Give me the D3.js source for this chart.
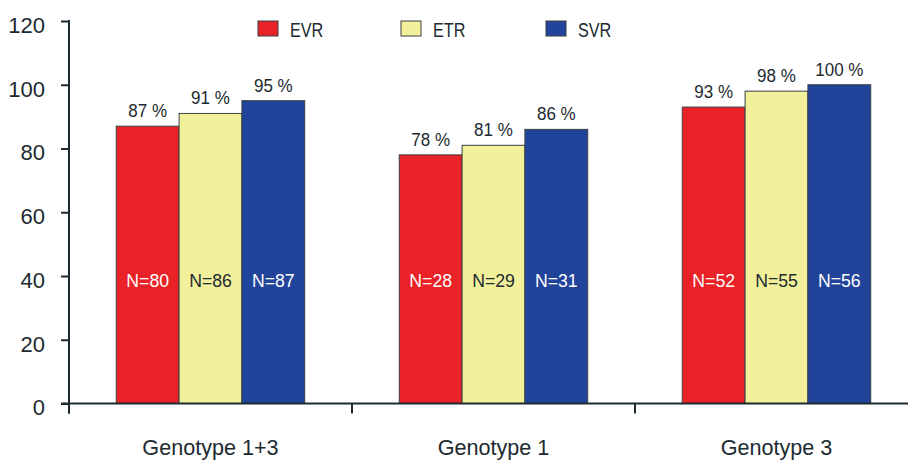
<!DOCTYPE html>
<html><head><meta charset="utf-8">
<script src="https://cdn.jsdelivr.net/npm/d3@7/dist/d3.min.js"></script>
<style>
html,body{margin:0;padding:0;background:#fff;}
svg{display:block;}
text{fill:#1c2a31;}
</style></head>
<body>
<svg id="chart" width="908" height="460"></svg>
<script>
const groups = ["Genotype 1+3", "Genotype 1", "Genotype 3"];
const seriesNames = ["EVR", "ETR", "SVR"];
const evr = [87, 78, 93];
const etr = [91, 81, 98];
const svr = [95, 86, 100];
const evrN = [80, 28, 52];
const etrN = [86, 29, 55];
const svrN = [87, 31, 56];
const yTicks = [0, 20, 40, 60, 80, 100, 120];
const colors = ["#e82226", "#f2f09a", "#21449a"];
const nTextColors = ["#ffffff", "#1c2a31", "#ffffff"];

const values = [evr, etr, svr];
const counts = [evrN, etrN, svrN];

const svg = d3.select("#chart");
const axisColor = "#1c2a31";
const fontFam = "'Liberation Sans', Arial, sans-serif";
const plotLeft = 69, plotBottom = 403.5, plotTop = 21;

const y = d3.scaleLinear().domain([0, 120]).range([plotBottom, plotTop]);
const x0 = d3.scaleBand().domain(groups).range([plotLeft, plotLeft + 3 * 283]).padding(0);
const bw = x0.bandwidth();
const x1 = d3.scaleBand().domain(seriesNames).range([bw * 0.167, bw * 0.833]).padding(0);

function condText(x, yy, str, size, sx, anchor, fill) {
  return svg.append("text")
    .attr("transform", `translate(${x},${yy}) scale(${sx},1)`)
    .attr("text-anchor", anchor)
    .style("font-family", fontFam)
    .style("font-size", size + "px")
    .style("fill", fill)
    .text(str);
}

// bars
groups.forEach((g, gi) => {
  seriesNames.forEach((s, si) => {
    const v = values[si][gi];
    const bx = x0(g) + x1(s);
    const cx = bx + x1.bandwidth() / 2;
    svg.append("rect")
      .attr("x", bx).attr("y", y(v))
      .attr("width", x1.bandwidth()).attr("height", y(0) - y(v))
      .attr("fill", colors[si]).attr("stroke", "#3a3f44").attr("stroke-width", 1);
    condText(cx, y(v) - 9, v + " %", 18.5, 0.92, "middle", axisColor);
    condText(cx, y(36.5), "N=" + counts[si][gi], 19, 0.93, "middle", nTextColors[si]);
  });
});

// y axis
const yAxis = d3.axisLeft(y).tickValues(yTicks).tickSize(8).tickPadding(16).tickSizeOuter(0);
const yg = svg.append("g").attr("transform", `translate(${plotLeft},0)`).call(yAxis);
yg.select(".domain").remove();
yg.selectAll(".tick line").attr("stroke", axisColor).attr("stroke-width", 2);
yg.selectAll(".tick text")
  .style("font-family", fontFam)
  .style("font-size", "22px").style("fill", axisColor).attr("dy", "0.52em");
svg.append("line").attr("x1", plotLeft).attr("x2", plotLeft).attr("y1", y(120) - 1).attr("y2", plotBottom + 10)
  .attr("stroke", axisColor).attr("stroke-width", 2);

// x axis
svg.append("line").attr("x1", plotLeft - 8).attr("x2", 908).attr("y1", plotBottom).attr("y2", plotBottom)
  .attr("stroke", axisColor).attr("stroke-width", 2);
groups.forEach(g => {
  svg.append("line").attr("x1", x0(g)).attr("x2", x0(g)).attr("y1", plotBottom).attr("y2", plotBottom + 10)
    .attr("stroke", axisColor).attr("stroke-width", 2);
});
const xAxis = d3.axisBottom(x0).tickSize(0).tickPadding(0);
const xg = svg.append("g").attr("transform", `translate(0,${plotBottom})`).call(xAxis);
xg.select(".domain").remove();
xg.selectAll(".tick text")
  .attr("x", 0).attr("y", 52).attr("dy", 0)
  .attr("transform", "scale(0.96,1)")
  .style("font-family", fontFam)
  .style("font-size", "22.5px").style("fill", axisColor);

// legend
const legX = [258, 401, 546];
seriesNames.forEach((s, i) => {
  svg.append("rect").attr("x", legX[i]).attr("y", 21).attr("width", 20).attr("height", 15)
    .attr("fill", colors[i]).attr("stroke", "#3a3f44").attr("stroke-width", 1);
  condText(legX[i] + 32, 36.7, s, 21, 0.77, "start", axisColor);
});
</script>
</body></html>
